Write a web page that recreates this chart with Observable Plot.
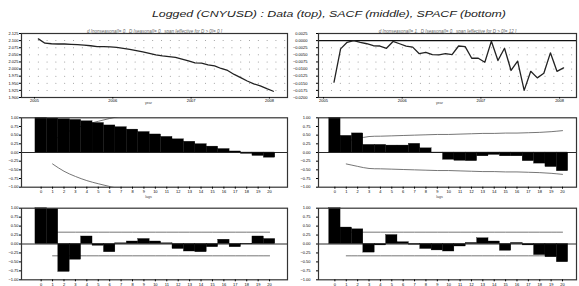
<!DOCTYPE html>
<html><head><meta charset="utf-8">
<script src="https://cdn.jsdelivr.net/npm/d3@7"></script>
<script src="https://cdn.jsdelivr.net/npm/@observablehq/plot@0.6"></script>
<style>
html,body{margin:0;padding:0;background:#fff}
#root{position:relative;width:579px;height:286px;overflow:hidden;font-family:"Liberation Sans",Arial,sans-serif}
#root svg{position:absolute;overflow:visible}
</style></head><body><div id="root"></div>
<script>
// ---------- text ----------
const title = "Logged (CNYUSD) : Data (top), SACF (middle), SPACF (bottom)";
const subtitleLeft = "d [nonseasonal]= 0,  D [seasonal]= 0,  span [effective for D > 0]= 0 ]";
const subtitleRight = "d [nonseasonal]= 1,  D [seasonal]= 0,  span [effective for D > 0]= 12 ]";
const xLabelTop = "year";
const xLabelLag = "lags";

// ---------- data ----------
const startYear = 2005.05;          // first monthly observation (fractional year)
const levels = [2.106, 2.091, 2.089, 2.088, 2.088, 2.087, 2.086, 2.084, 2.082, 2.079,
  2.079, 2.078, 2.076, 2.073, 2.069, 2.065, 2.060, 2.055, 2.050, 2.046,
  2.044, 2.041, 2.035, 2.029, 2.022, 2.021, 2.015, 2.011, 2.002, 1.995,
  1.981, 1.970, 1.958, 1.948, 1.941, 1.931, 1.922];
const diffs = [-0.0146, -0.0029, -0.0006, 0.0000, -0.0006, -0.0011, -0.0018, -0.0019, -0.0027, -0.0003,
  -0.0011, -0.0019, -0.0023, -0.0046, -0.0041, -0.0049, -0.0050, -0.0046, -0.0049, -0.0019,
  -0.0021, -0.0062, -0.0062, -0.0076, -0.0002, -0.0070, -0.0027, -0.0105, -0.0072, -0.0175,
  -0.0108, -0.0131, -0.0115, -0.0043, -0.0108, -0.0096];

const sacfLevel = [1.00, 0.98, 0.96, 0.94, 0.90, 0.85, 0.78, 0.73, 0.66, 0.59, 0.52,
  0.45, 0.38, 0.31, 0.24, 0.17, 0.10, 0.03, -0.04, -0.10, -0.15];
const sacfDiff = [1.00, 0.48, 0.55, 0.22, 0.22, 0.20, 0.20, 0.25, 0.12, -0.01, -0.21,
  -0.24, -0.25, -0.11, -0.07, -0.11, -0.11, -0.25, -0.32, -0.42, -0.54];
const spacfLevel = [1.00, 0.98, -0.78, -0.44, 0.21, -0.05, -0.23, 0.02, 0.07, 0.14, 0.07,
  0.02, -0.14, -0.21, -0.23, -0.09, 0.12, -0.09, -0.01, 0.21, 0.14];
const spacfDiff = [1.00, 0.46, 0.41, -0.24, -0.04, 0.25, 0.05, -0.02, -0.14, -0.18, -0.21,
  -0.07, 0.03, 0.16, 0.07, -0.19, 0.03, -0.04, -0.31, -0.37, -0.51];

// confidence bands (half-widths) starting at lag 1
const sacfLevelBand = [0.33, 0.54, 0.69, 0.81, 0.90, 0.98, 1.05];
const sacfDiffBand = [0.33, 0.40, 0.46, 0.47, 0.48, 0.49, 0.50, 0.51, 0.52, 0.52,
  0.53, 0.54, 0.55, 0.55, 0.56, 0.56, 0.57, 0.58, 0.60, 0.63];
const spacfLevelBand = Array(20).fill(0.33);
const spacfDiffBand = Array(20).fill(0.33);

// ---------- ticks ----------
const yearTicks = [2005, 2006, 2007, 2008];
const levelTicks = [1.900, 1.925, 1.950, 1.975, 2.000, 2.025, 2.050, 2.075, 2.100, 2.125];
const diffTicks = [-0.0200, -0.0175, -0.0150, -0.0125, -0.0100, -0.0075, -0.0050, -0.0025, 0.0000, 0.0025];
const corrTicks = [-1.00, -0.75, -0.50, -0.25, 0.00, 0.25, 0.50, 0.75, 1.00];
const lagTicks = [0,1,2,3,4,5,6,7,8,9,10,11,12,13,14,15,16,17,18,19,20];

// ---------- layout ----------
const root = document.getElementById("root");
const cols = {
  L: {left: 0, w: 289, mL: 21, mR: 2, lagDom: [-1.72, 21.57], yearDom: [2004.834, 2008.231], dot0: 2004.936, dotStep: 0.1124, tp: 1, tpTop: 1, lblDx: -6},
  R: {left: 289, w: 290, mL: 29, mR: 3, lagDom: [-1.44, 21.23], yearDom: [2004.936, 2008.215], dot0: 2004.987, dotStep: 0.1131, tp: 6, tpTop: 9, lblDx: -8}
};
const rows = {
  top: {top: 22, h: 86, mT: 11, mB: 11},
  mid: {top: 108, h: 92, mT: 9.3, mB: 13.3, lagLabel: true},
  bot: {top: 200, h: 86, mT: 7.7, mB: 6.7, lagLabel: false}
};
const FONT = "Liberation Sans, Arial, sans-serif";

function place(svg, c, r) {
  svg.style.left = c.left + "px";
  svg.style.top = r.top + "px";
  root.appendChild(svg);
  return svg;
}

// title
{
  const ns = "http://www.w3.org/2000/svg";
  const s = document.createElementNS(ns, "svg");
  s.setAttribute("width", 579); s.setAttribute("height", 22);
  s.style.left = "0px"; s.style.top = "0px";
  const t = document.createElementNS(ns, "text");
  t.setAttribute("x", 329); t.setAttribute("y", 17.3);
  t.setAttribute("text-anchor", "middle");
  t.setAttribute("font-size", 9); t.setAttribute("font-style", "italic");
  t.setAttribute("font-family", FONT); t.setAttribute("fill", "#222");
  t.setAttribute("textLength", 354); t.setAttribute("lengthAdjust", "spacingAndGlyphs");
  t.textContent = title;
  s.appendChild(t); root.appendChild(s);
}

function topPanel(c, series, yDom, yTicks, fmt, subtitle, subLen, isDiff) {
  const r = rows.top;
  const interior = yTicks.slice(1, -1);
  const dotXs = d3.range(c.dot0, c.yearDom[1] - 0.03, c.dotStep);
  const grid = dotXs.flatMap(x => interior.map(y => ({x, y})));
  const offset = isDiff ? 1 : 0;
  const marks = [
    Plot.dot(grid, {x: "x", y: "y", r: 0.5, fill: "#888", stroke: null}),
    isDiff ? Plot.ruleY([0], {stroke: "#111", strokeWidth: 1.4}) : null,
    Plot.line(series, {x: (d, i) => startYear + (i + offset) / 12, y: d => d, stroke: "#222", strokeWidth: 1.3}),
    Plot.frame({stroke: "#333", strokeWidth: 1.2}),
    Plot.axisY(yTicks, {tickSize: 2, tickPadding: c.tpTop, tickFormat: d3.format(fmt), fontSize: 4, label: null}),
    Plot.axisX(yearTicks, {tickSize: 1.5, tickPadding: 0.5, tickFormat: d => String(d), fontSize: 4, label: null}),
    Plot.text([subtitle], {text: d => d, frameAnchor: "top", dy: -4, fontSize: 4.5, fontStyle: "italic", fill: "#666", ariaLabel: "subtitle"}),
    Plot.text([xLabelTop], {text: d => d, frameAnchor: "bottom", dy: 6.5, dx: c.lblDx, fontSize: 3.6, fill: "#444"})
  ];
  const svg = Plot.plot({
    width: c.w, height: r.h, marginLeft: c.mL, marginRight: c.mR, marginTop: r.mT, marginBottom: r.mB,
    x: {domain: c.yearDom}, y: {domain: yDom},
    style: {fontFamily: FONT, fontSize: "4px", background: "transparent", overflow: "visible"},
    marks
  });
  svg.querySelectorAll('g[aria-label="subtitle"] text').forEach(t => {
    t.setAttribute("textLength", subLen); t.setAttribute("lengthAdjust", "spacingAndGlyphs");
  });
  place(svg, c, r);
}

function corrPanel(c, r, values, band) {
  const bars = values.map((v, i) => ({lag: lagTicks[i], v}));
  const bandData = band.map((b, i) => ({lag: i + 1, b}));
  const marks = [
    Plot.line(bandData, {x: "lag", y: d => d.b, stroke: "#666", strokeWidth: 0.9, curve: "natural", clip: true}),
    Plot.line(bandData, {x: "lag", y: d => -d.b, stroke: "#666", strokeWidth: 0.9, curve: "natural", clip: true}),
    Plot.rect(bars, {x1: d => d.lag - 0.5, x2: d => d.lag + 0.5, y1: 0, y2: "v", fill: "#000", stroke: "#000", strokeWidth: 0.3}),
    Plot.ruleY([0], {stroke: "#111", strokeWidth: 0.9}),
    Plot.frame({stroke: "#333", strokeWidth: 1.2}),
    Plot.axisY(corrTicks, {tickSize: 2, tickPadding: c.tp, tickFormat: d3.format(".2f"), fontSize: 4, label: null}),
    Plot.axisX(lagTicks, {tickSize: 2, tickPadding: 1, tickFormat: d => String(d), fontSize: 4, label: null}),
    r.lagLabel ? Plot.text([xLabelLag], {text: d => d, frameAnchor: "bottom", dy: 10.6, dx: c.lblDx, fontSize: 3.6, fill: "#444"}) : null
  ];
  const svg = Plot.plot({
    width: c.w, height: r.h, marginLeft: c.mL, marginRight: c.mR, marginTop: r.mT, marginBottom: r.mB,
    x: {domain: c.lagDom}, y: {domain: [-1, 1]},
    style: {fontFamily: FONT, fontSize: "4px", background: "transparent", overflow: "visible"},
    marks
  });
  place(svg, c, r);
}

topPanel(cols.L, levels, [1.900, 2.125], levelTicks, ".3f", subtitleLeft, 180, false);
topPanel(cols.R, diffs, [-0.0200, 0.0025], diffTicks, ".4f", subtitleRight, 197, true);
corrPanel(cols.L, rows.mid, sacfLevel, sacfLevelBand);
corrPanel(cols.R, rows.mid, sacfDiff, sacfDiffBand);
corrPanel(cols.L, rows.bot, spacfLevel, spacfLevelBand);
corrPanel(cols.R, rows.bot, spacfDiff, spacfDiffBand);
</script>
</body></html>
